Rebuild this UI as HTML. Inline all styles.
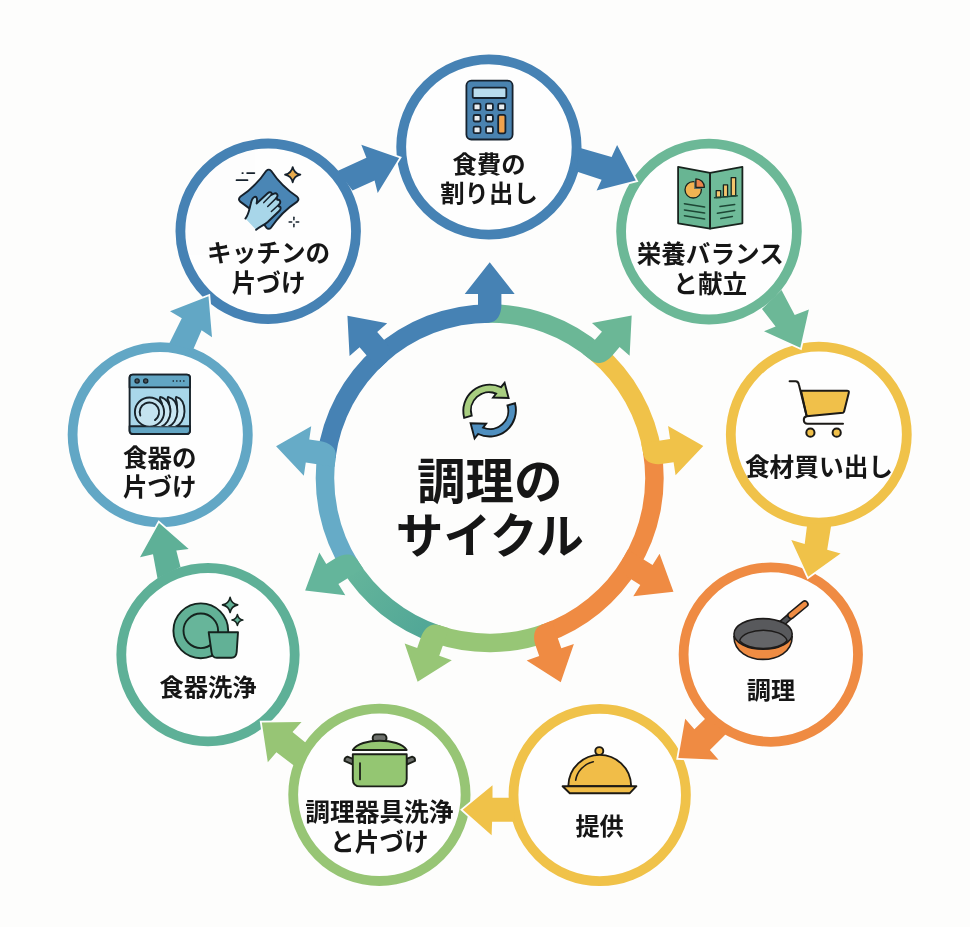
<!DOCTYPE html>
<html lang="ja">
<head>
<meta charset="utf-8">
<title>調理のサイクル</title>
<style>
html,body{margin:0;padding:0;background:#fdfdfc;}
body{width:970px;height:927px;overflow:hidden;}
svg{display:block;will-change:transform;opacity:0.999;}
svg text{font-family:"Liberation Sans","Noto Sans CJK JP",sans-serif;font-weight:700;fill:#161616;}
</style>
</head>
<body>
<svg width="970" height="927" viewBox="0 0 970 927">
<rect width="970" height="927" fill="#fdfdfc"/>
<g id="ring">
<defs><linearGradient id="tg" gradientUnits="userSpaceOnUse" x1="347" y1="560.6" x2="438.8" y2="634.9"><stop offset="0" stop-color="#66b69b"/><stop offset="1" stop-color="#4fa596"/></linearGradient></defs>
<path d="M379 356.2A164.8 164.8 0 0 1 489.7 313.4" fill="none" stroke="#4682b4" stroke-width="18.5"/>
<path d="M486.8 313.5A164.8 164.8 0 0 1 598 354.1" fill="none" stroke="#6bb796" stroke-width="18.5"/>
<path d="M595.8 352.2A164.8 164.8 0 0 1 652.6 453.6" fill="none" stroke="#f0c249" stroke-width="18.5"/>
<path d="M652.1 450.7A164.8 164.8 0 0 1 629.9 564.8" fill="none" stroke="#ef8b43" stroke-width="18.5"/>
<path d="M631.4 562.3A164.8 164.8 0 0 1 543.9 633.8" fill="none" stroke="#ef8b43" stroke-width="18.5"/>
<path d="M546.6 632.8A164.8 164.8 0 0 1 434.7 633.5" fill="none" stroke="#97c676" stroke-width="18.5"/>
<path d="M437.4 634.4A164.8 164.8 0 0 1 348.9 563.8" fill="none" stroke="url(#tg)" stroke-width="18.5"/>
<path d="M350.4 566.2A164.8 164.8 0 0 1 326.8 453.8" fill="none" stroke="#66abc7" stroke-width="18.5"/>
<path d="M326.4 456.7A164.8 164.8 0 0 1 381.2 354.2" fill="none" stroke="#4682b4" stroke-width="18.5"/>
<path d="M-11.7 -159.5L-11.7 -184.2L-25.0 -184.2L0 -216.0L25.0 -184.2L11.7 -184.2L11.7 -173.5C11.7 -164.0 7.699999999999999 -155.5 -1.5 -155.5L-11.7 -155.1Z" fill="#4682b4" transform="translate(489.7 478.2) rotate(0)"/>
<path d="M-11.7 -159.5L-11.7 -184.2L-25.0 -184.2L0 -216.0L25.0 -184.2L11.7 -184.2L11.7 -173.5C11.7 -164.0 7.699999999999999 -155.5 -1.5 -155.5L-11.7 -155.1Z" fill="#6bb796" transform="translate(489.7 478.2) rotate(41.1)"/>
<path d="M-11.7 -159.5L-11.7 -184.2L-25.0 -184.2L0 -216.0L25.0 -184.2L11.7 -184.2L11.7 -173.5C11.7 -164.0 7.699999999999999 -155.5 -1.5 -155.5L-11.7 -155.1Z" fill="#f0c249" transform="translate(489.7 478.2) rotate(81.4)"/>
<path d="M-11.7 -159.5L-11.7 -184.2L-25.0 -184.2L0 -216.0L25.0 -184.2L11.7 -184.2L11.7 -173.5C11.7 -164.0 7.699999999999999 -155.5 -1.5 -155.5L-11.7 -155.1Z" fill="#ef8b43" transform="translate(489.7 478.2) rotate(121.7)"/>
<path d="M-11.7 -159.5L-11.7 -184.2L-25.0 -184.2L0 -216.0L25.0 -184.2L11.7 -184.2L11.7 -173.5C11.7 -164.0 7.699999999999999 -155.5 -1.5 -155.5L-11.7 -155.1Z" fill="#ef8b43" transform="translate(489.7 478.2) rotate(160.8)"/>
<path d="M-11.7 -159.5L-11.7 -184.2L-25.0 -184.2L0 -216.0L25.0 -184.2L11.7 -184.2L11.7 -173.5C11.7 -164.0 7.699999999999999 -155.5 -1.5 -155.5L-11.7 -155.1Z" fill="#97c676" transform="translate(489.7 478.2) rotate(199.5)"/>
<path d="M-11.7 -159.5L-11.7 -184.2L-25.0 -184.2L0 -216.0L25.0 -184.2L11.7 -184.2L11.7 -173.5C11.7 -164.0 7.699999999999999 -155.5 -1.5 -155.5L-11.7 -155.1Z" fill="#64b59b" transform="translate(489.7 478.2) rotate(238.7)"/>
<path d="M-11.7 -159.5L-11.7 -184.2L-25.0 -184.2L0 -216.0L25.0 -184.2L11.7 -184.2L11.7 -173.5C11.7 -164.0 7.699999999999999 -155.5 -1.5 -155.5L-11.7 -155.1Z" fill="#66abc7" transform="translate(489.7 478.2) rotate(278.5)"/>
<path d="M-11.7 -159.5L-11.7 -184.2L-25.0 -184.2L0 -216.0L25.0 -184.2L11.7 -184.2L11.7 -173.5C11.7 -164.0 7.699999999999999 -155.5 -1.5 -155.5L-11.7 -155.1Z" fill="#4682b4" transform="translate(489.7 478.2) rotate(318.8)"/>
</g>
<g id="circles">
<circle cx="488.9" cy="147" r="87.7" fill="#fefefe" stroke="#4682b4" stroke-width="9.8"/>
<circle cx="709" cy="231.6" r="87.9" fill="#fefefe" stroke="#6cb897" stroke-width="9.8"/>
<circle cx="818.8" cy="434.6" r="88" fill="#fefefe" stroke="#f0c249" stroke-width="9.8"/>
<circle cx="770.8" cy="654.6" r="87.2" fill="#fefefe" stroke="#ef8b43" stroke-width="9.8"/>
<circle cx="599.7" cy="795" r="86.2" fill="#fefefe" stroke="#f0c249" stroke-width="9.8"/>
<circle cx="379.4" cy="794.8" r="86.2" fill="#fefefe" stroke="#97c575" stroke-width="9.8"/>
<circle cx="208" cy="654.7" r="86.7" fill="#fefefe" stroke="#5eb097" stroke-width="9.8"/>
<circle cx="160.2" cy="434.7" r="87.6" fill="#fefefe" stroke="#62a7c5" stroke-width="9.8"/>
<circle cx="268.2" cy="231.3" r="87.8" fill="#fefefe" stroke="#4682b4" stroke-width="9.8"/>
<polygon points="611.6,157 617.1,144.9 635.8,180.6 596.6,190.6 601.6,179.7" fill="#4682b4" stroke="#fdfdfc" stroke-width="3.6" stroke-linejoin="miter"/>
<polygon points="579.5,147.8 611.6,157 617.1,144.9 635.8,180.6 596.6,190.6 601.6,179.7 576.5,171.5" fill="#4682b4"/>
<polygon points="794.7,314.9 808.9,309.5 800.3,347.7 764,331.3 775.6,326.4" fill="#6cb897" stroke="#fdfdfc" stroke-width="3.6" stroke-linejoin="miter"/>
<polygon points="781.5,290 794.7,314.9 808.9,309.5 800.3,347.7 764,331.3 775.6,326.4 762,309" fill="#6cb897"/>
<polygon points="804.7,544 791.3,540 808.2,576.8 840.6,553.5 827.2,549.7" fill="#f0c249" stroke="#fdfdfc" stroke-width="3.6" stroke-linejoin="miter"/>
<polygon points="807.3,523.5 804.7,544 791.3,540 808.2,576.8 840.6,553.5 827.2,549.7 831.5,523.5" fill="#f0c249"/>
<polygon points="694.4,729.2 685.2,718.8 678.3,758 718.5,759.7 709.9,749.9" fill="#ef8b43" stroke="#fdfdfc" stroke-width="3.6" stroke-linejoin="miter"/>
<polygon points="706,718 694.4,729.2 685.2,718.8 678.3,758 718.5,759.7 709.9,749.9 726.5,733.5" fill="#ef8b43"/>
<polygon points="492.5,797.7 492.5,785.2 462.8,809.7 491.6,835.3 492.1,821.8" fill="#f0c249" stroke="#fdfdfc" stroke-width="3.6" stroke-linejoin="miter"/>
<polygon points="512.5,797.7 492.5,797.7 492.5,785.2 462.8,809.7 491.6,835.3 492.1,821.8 515,821.8" fill="#f0c249"/>
<polygon points="292.5,732.1 301.5,722.1 261.8,722.5 267.8,762.2 276.4,752.3" fill="#97c575" stroke="#fdfdfc" stroke-width="3.6" stroke-linejoin="miter"/>
<polygon points="306,743 292.5,732.1 301.5,722.1 261.8,722.5 267.8,762.2 276.4,752.3 294.5,766" fill="#97c575"/>
<polygon points="153,554.2 140,557.3 159,523.1 188.7,549 176.3,550.4" fill="#5eb097" stroke="#fdfdfc" stroke-width="3.6" stroke-linejoin="miter"/>
<polygon points="157.5,578.5 153,554.2 140,557.3 159,523.1 188.7,549 176.3,550.4 180.5,567" fill="#5eb097"/>
<polygon points="181.8,318.2 170,311.3 208.5,296.3 212,337.2 201.6,330.3" fill="#62a7c5" stroke="#fdfdfc" stroke-width="3.6" stroke-linejoin="miter"/>
<polygon points="169,344 181.8,318.2 170,311.3 208.5,296.3 212,337.2 201.6,330.3 193,350" fill="#62a7c5"/>
<polygon points="366.4,157.7 361.3,144.7 399.2,158 377.7,193 374.6,180.4" fill="#4682b4" stroke="#fdfdfc" stroke-width="3.6" stroke-linejoin="miter"/>
<polygon points="337.5,171 366.4,157.7 361.3,144.7 399.2,158 377.7,193 374.6,180.4 352.5,190.5" fill="#4682b4"/>
</g>
<g id="icons">
<g id="ic-calc" stroke="#16222e" stroke-width="1.8" stroke-linejoin="round">
<rect x="466.4" y="80.6" width="46.2" height="58.9" rx="5" fill="#4a83b0"/>
<rect x="472.7" y="87.6" width="33.6" height="10.4" rx="1.6" fill="#b9dcee"/>
<rect x="473.6" y="103.7" width="6.9" height="6.5" rx="1.4" fill="#e9edf0"/>
<rect x="473.6" y="115" width="6.9" height="6.5" rx="1.4" fill="#e9edf0"/>
<rect x="473.6" y="126.7" width="6.9" height="6.5" rx="1.4" fill="#e9edf0"/>
<rect x="486" y="103.7" width="6.9" height="6.5" rx="1.4" fill="#e9edf0"/>
<rect x="486" y="115" width="6.9" height="6.5" rx="1.4" fill="#e9edf0"/>
<rect x="486" y="126.7" width="6.9" height="6.5" rx="1.4" fill="#e9edf0"/>
<rect x="498.2" y="103.7" width="6.9" height="6.5" rx="1.4" fill="#e9edf0"/>
<rect x="498.2" y="114.9" width="7.2" height="18.4" rx="1.8" fill="#f0a24d"/>
</g>
<g id="ic-menu" stroke="#18241e" stroke-width="1.8" stroke-linejoin="round" stroke-linecap="round">
<polygon points="678.1,166.8 710.1,172.8 710.1,228.6 678.1,223.3" fill="#68b593"/>
<polygon points="710.1,172.8 742.4,166.8 742.4,223.3 710.1,228.6" fill="#6fbb99"/>
<circle cx="693.2" cy="189.8" r="8.2" fill="#f2b352" stroke-width="1.3"/>
<path d="M694.1 189L694.1 180.8A8.2 8.2 0 0 1 702.3 189Z" fill="#5d6b66" stroke="none"/>
<path d="M695.9 187.3L695.9 178.8A8.5 8.5 0 0 1 704.4 187.3Z" fill="#e9844b" stroke-width="1.3"/>
<rect x="716.2" y="190.7" width="4.5" height="6.8" fill="#f3c56d" stroke-width="1.3"/>
<rect x="723.4" y="184.9" width="4.2" height="11.8" fill="#f3c56d" stroke-width="1.3"/>
<rect x="731.2" y="177.6" width="4.5" height="18.2" fill="#f3c56d" stroke-width="1.3"/>
<path d="M714.5 197.8L737.3 195.8" fill="none" stroke="#1d4735" stroke-width="1.4"/>
<path d="M684.4 203.7L704.6 207.1" fill="none" stroke="#1d4735" stroke-width="1.5"/>
<path d="M684.4 209.9L704.6 213.1" fill="none" stroke="#1d4735" stroke-width="1.5"/>
<path d="M684.4 215.7L704.6 219.1" fill="none" stroke="#1d4735" stroke-width="1.5"/>
<path d="M720 206.6L734.7 204.5" fill="none" stroke="#1d4735" stroke-width="1.5"/>
<path d="M717.4 213.3L734.7 210.4" fill="none" stroke="#1d4735" stroke-width="1.5"/>
<path d="M720.8 218.6L732.4 216.5" fill="none" stroke="#1d4735" stroke-width="1.5"/>
</g>
<g id="ic-cart" stroke="#1c1a17" stroke-width="2" stroke-linejoin="round" stroke-linecap="round">
<path d="M801 390.7L847 390.7Q849.3 390.7 848.8 392.7L844.1 411.4Q843.7 412.6 843 412.8L806.7 416.3Z" fill="#f0c04a"/>
<path d="M789.6 381.3L795.6 381.3Q798.3 381.3 799 384.9L806.7 416.3C802.7 416.9 802.7 423.7 807.5 423.7L843 423.7" fill="none"/>
<circle cx="810.4" cy="432.7" r="4.1" fill="#f0c04a"/>
<circle cx="836.7" cy="432.7" r="4.1" fill="#f0c04a"/>
</g>
<g id="ic-pan" stroke="#1d1b1a" stroke-width="1.6" stroke-linejoin="round" stroke-linecap="round">
<path d="M781.8 623.5L791 615.4" stroke="#1d1b1a" stroke-width="7.2" fill="none"/>
<path d="M781.8 623.5L791 615.4" stroke="#505255" stroke-width="4.0" fill="none"/>
<path d="M791 615.4L804.8 604.1" stroke="#1d1b1a" stroke-width="7.8" fill="none"/>
<path d="M791 615.4L804.8 604.1" stroke="#ef8c43" stroke-width="4.6" fill="none"/>
<path d="M733.9 636.4C734.2 652.1 749.3 659.4 762.9 659.4C777.4 659.4 792 652.1 792.2 636.4Z" fill="#ef8c43"/>
<ellipse cx="763.1" cy="633.9" rx="29.1" ry="15.3" fill="#58595c"/>
<path d="M739.6 640.5C744.4 626.9 782.3 626.9 787.1 640.5C779.4 651.2 747.3 651.2 739.6 640.5Z" fill="#646568" stroke-width="1.4"/>
</g>
<g id="ic-cloche" stroke="#1d1a14" stroke-width="1.9" stroke-linejoin="round" stroke-linecap="round">
<circle cx="599.3" cy="751.1" r="4" fill="#f1bd48"/>
<path d="M568.3 786.2C568.6 767 584.1 754.9 599.7 754.9C615.2 754.9 630.9 767 631.2 786.2Z" fill="#f1bd48"/>
<polygon points="562.6,786.2 636.4,786.2 629.6,793.3 569.8,793.3" fill="#f1bd48"/>
<path d="M575.7 780.2C576.8 771.9 584.1 763.6 593.3 761.7" fill="none" stroke-width="1.6"/>
</g>
<g id="ic-pot" stroke="#1b1f18" stroke-width="1.9" stroke-linejoin="round" stroke-linecap="round">
<path d="M353 758.8L347.4 756.6Q344.2 757.5 344.5 760.9L353 764.6Z" fill="#6d706c"/>
<path d="M406.6 758.8L412.2 756.6Q415.4 757.5 415 760.9L406.6 764.6Z" fill="#6d706c"/>
<rect x="372.7" y="734.4" width="13.8" height="7.6" rx="3.4" fill="#6d706c"/>
<path d="M352.8 750C360.2 737.6 399.1 737.6 406.7 750Z" fill="#94c672"/>
<path d="M352.8 754.3L406.7 754.3L406.7 778.9Q406.7 786.4 399.1 786.4L360.4 786.4Q352.8 786.4 352.8 778.9Z" fill="#94c672"/>
<path d="M360 763.1L360 779.4" fill="none" stroke-width="1.8"/>
</g>
<g id="ic-dish" stroke="#15231e" stroke-width="1.9" stroke-linejoin="round" stroke-linecap="round">
<circle cx="200.8" cy="630.8" r="27.4" fill="#62b196"/>
<circle cx="200.8" cy="630.8" r="17.3" fill="#67b59a"/>
<path d="M208.7 632.3L238 632.3L236.7 652Q236.2 657.8 231.4 657.8L216.8 657.8Q212.1 657.8 211.5 652Z" fill="#62b196"/>
<path d="M230.1 597.3Q231.4 603.6 237.7 604.9Q231.4 606.2 230.1 612.5Q228.8 606.2 222.5 604.9Q228.8 603.6 230.1 597.3Z" fill="#62b196" stroke-width="1.6"/>
<path d="M237.4 614.6Q238.3 619 242.8 620Q238.3 620.9 237.4 625.4Q236.5 620.9 232 620Q236.5 619 237.4 614.6Z" fill="#62b196" stroke-width="1.6"/>
</g>
<g id="ic-dw" stroke="#18232b" stroke-width="1.9" stroke-linejoin="round" stroke-linecap="round">
<clipPath id="dwclip"><rect x="129.6" y="387.7" width="60.4" height="38.5"/></clipPath>
<rect x="129.6" y="374.6" width="60.4" height="59.4" rx="3.2" fill="#a9d7ea"/>
<path d="M129.6 387.4L129.6 377.8Q129.6 374.6 132.8 374.6L186.8 374.6Q190 374.6 190 377.8L190 387.4Z" fill="#62a5c3"/>
<path d="M129.6 426.2L129.6 430.8Q129.6 434 132.8 434L186.8 434Q190 434 190 430.8L190 426.2Z" fill="#62a5c3"/>
<g clip-path="url(#dwclip)" stroke-width="1.9">
<path d="M176.2 396.9C182 398.3 184.5 403.7 184.5 411.5C184.5 419.2 180 425.2 175.2 427L166.5 427C177.2 418.3 178.5 405.6 175.7 398.8Z" fill="#c9e6f2" stroke-width="1.9"/>
<path d="M168 396.9C173.8 398.3 177.4 403.7 177.4 411.5C177.4 419.2 172.8 425.2 167.9 427L159.2 427C170.1 418.3 171.4 405.6 167.5 398.8Z" fill="#c9e6f2" stroke-width="1.9"/>
<path d="M160.2 396.9C166.1 398.3 170.5 403.7 170.5 411.5C170.5 419.2 165.7 425.2 160.8 427L152.1 427C163.3 418.3 164.5 405.6 159.8 398.8Z" fill="#c9e6f2" stroke-width="1.9"/>
<circle cx="149.5" cy="412.1" r="14.6" fill="#c4e3f0"/>
<path d="M140.3 415.5A9.7 9.7 0 1 1 155 420.1" fill="none"/>
</g>
<circle cx="137.1" cy="381" r="2.1" fill="#4a5258" stroke-width="1.3"/>
<circle cx="145.7" cy="381" r="2.1" fill="#4a5258" stroke-width="1.3"/>
<rect x="172.6" y="380.3" width="1.4" height="1.4" fill="#18232b" stroke="none"/>
<rect x="176.1" y="380.3" width="1.4" height="1.4" fill="#18232b" stroke="none"/>
<rect x="179.6" y="380.3" width="1.4" height="1.4" fill="#18232b" stroke="none"/>
<rect x="183.1" y="380.3" width="1.4" height="1.4" fill="#18232b" stroke="none"/>
</g>
<g id="ic-wipe" stroke="#16212c" stroke-width="1.9" stroke-linejoin="round" stroke-linecap="round">
<path d="M271.1 170.8Q281.5 186.4 297.2 196.8Q299.6 199.2 297.2 201.6Q281.5 211.9 271.1 227.6Q268.7 230 266.3 227.6Q255.9 211.9 240.2 201.6Q237.8 199.2 240.2 196.8Q255.9 186.4 266.3 170.8Q268.7 168.4 271.1 170.8Z" fill="#4a86b5"/>
<path d="M245.4 218.6C248.8 214.2 249.3 209.4 250.7 204C251.4 200.6 252.7 197.7 254.6 196.9C257 196.3 257.5 199.2 256.6 203.5L267.7 193.3C269.7 191.4 272.6 192.4 271.4 194.8L273.5 193.8C276.5 192.4 278.9 194.8 276.5 197.7L277.4 199.9C280.3 199.2 281.3 202.6 278.9 204.5L278.4 206.3C281.3 206.5 281.3 209.4 278.9 211.3L267.7 222C263.8 225.4 260 226.4 256.1 229.8Z" fill="#a8d6e9" stroke="none"/>
<path d="M245.4 218.6C248.8 214.2 249.3 209.4 250.7 204C251.4 200.6 252.7 197.7 254.6 196.9C257 196.3 257.5 199.2 256.6 203.5L267.7 193.3C269.7 191.4 272.6 192.4 271.4 194.8L273.5 193.8C276.5 192.4 278.9 194.8 276.5 197.7L277.4 199.9C280.3 199.2 281.3 202.6 278.9 204.5L278.4 206.3C281.3 206.5 281.3 209.4 278.9 211.3L267.7 222C263.8 225.4 260 226.4 256.1 229.8" fill="none"/>
<path d="M271.4 194.8L263.8 202.6" fill="none" stroke-width="1.5"/>
<path d="M276.5 197.9L267.7 206.5" fill="none" stroke-width="1.5"/>
<path d="M278.7 204.7L271.4 211.5" fill="none" stroke-width="1.5"/>
<path d="M292.7 167Q294 173.4 300.4 174.7Q294 176 292.7 182.4Q291.4 176 285 174.7Q291.4 173.4 292.7 167Z" fill="#e9ab4c" stroke-width="1.7"/>
<path d="M293.9 219.8L293.9 217.2" fill="none" stroke-width="1.5"/>
<path d="M293.9 224.2L293.9 226.8" fill="none" stroke-width="1.5"/>
<path d="M291.7 222L289.1 222" fill="none" stroke-width="1.5"/>
<path d="M296.1 222L298.7 222" fill="none" stroke-width="1.5"/>
<path d="M247.1 173.1L254.4 173.1" fill="none" stroke-width="1.7"/>
<path d="M236.5 180.2L247.5 180.2" fill="none" stroke-width="1.7"/>
<path d="M242.3 173.1L242.9 173.1" fill="none" stroke-width="1.7"/>
</g>
<g id="ic-cycle" stroke="#15191a" stroke-width="1.9" stroke-linejoin="miter" transform="translate(489.6 410.6)">
<path d="M-25.4 7.3A26.4 26.4 0 0 1 11.4 -23.4L15 -27.8L19 -12.6L3.5 -13.1L6.5 -17A18.2 18.2 0 0 0 -17.9 5.1Z" fill="#a8ce80"/>
<path d="M-25.4 7.3A26.4 26.4 0 0 1 11.4 -23.4L15 -27.8L19 -12.6L3.5 -13.1L6.5 -17A18.2 18.2 0 0 0 -17.9 5.1Z" fill="#4f8fbf" transform="rotate(180)"/>
</g>
</g>
<g id="labels">
<text x="489" y="172.6" font-size="24.4" text-anchor="middle">食費の</text>
<text x="489" y="202.3" font-size="24.4" text-anchor="middle">割り出し</text>
<text x="710.2" y="263.4" font-size="24.6" text-anchor="middle">栄養バランス</text>
<text x="710.2" y="292.6" font-size="24.6" text-anchor="middle">と献立</text>
<text x="819" y="475.6" font-size="24.7" text-anchor="middle">食材買い出し</text>
<text x="771" y="699" font-size="24.2" text-anchor="middle">調理</text>
<text x="599.6" y="835" font-size="24.2" text-anchor="middle">提供</text>
<text x="379.4" y="821.2" font-size="24.7" text-anchor="middle">調理器具洗浄</text>
<text x="379.4" y="850.6" font-size="24.7" text-anchor="middle">と片づけ</text>
<text x="208" y="695.8" font-size="24.3" text-anchor="middle">食器洗浄</text>
<text x="159.8" y="467" font-size="24.5" text-anchor="middle">食器の</text>
<text x="159.8" y="496" font-size="24.5" text-anchor="middle">片づけ</text>
<text x="268.6" y="262.2" font-size="24.6" text-anchor="middle">キッチンの</text>
<text x="268.6" y="291.8" font-size="24.6" text-anchor="middle">片づけ</text>
<text x="489.8" y="498.8" font-size="48.5" text-anchor="middle">調理の</text>
<text x="489.8" y="552.8" font-size="47.6" text-anchor="middle">サイクル</text>
</g>
</svg>
</body>
</html>
